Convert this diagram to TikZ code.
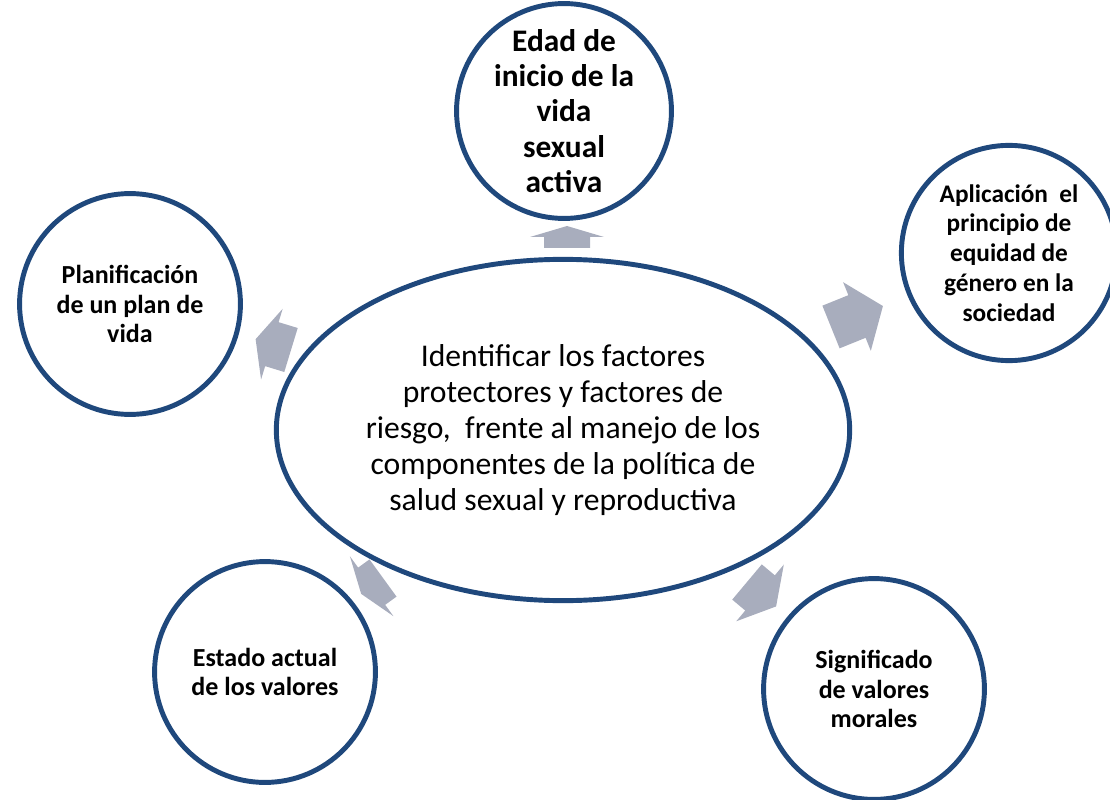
\documentclass[tikz,border=0pt]{standalone}
\usepackage{fontspec}
\setmainfont{Carlito}
\usetikzlibrary{shapes.geometric}
\definecolor{ringblue}{HTML}{1F487C}
\definecolor{arrowgray}{HTML}{A8ADBD}

\tikzset{
  hub/.style={ellipse, draw=ringblue, line width=3.5pt, fill=white, inner sep=0pt,
    minimum width=14.33cm, minimum height=8.53cm, align=center,
    font=\fontsize{22.5}{25.6}\selectfont},
  bubble/.style={circle, draw=ringblue, line width=3.5pt, fill=white, inner sep=0pt,
    minimum size=5.52cm, align=center, font=\bfseries\fontsize{18.5}{20.9}\selectfont}
}
\newcommand{\blockarrow}[4]{%
  \fill[arrowgray, shift={#1}, rotate=#2] (0,-23) -- ({#3-#4},-23) -- ({#3-#4},-37)
    -- (#3,0) -- ({#3-#4},37) -- ({#3-#4},23) -- (0,23) -- cycle;}

\begin{document}
\begin{tikzpicture}[x=0.025cm, y=0.025cm]
    \useasboundingbox (0,0) rectangle (1110,-800);
    \node[hub] (centro) at (563,-430) {Identificar los factores\\protectores y factores de\\riesgo,\ \ frente al manejo de los\\componentes de la política de\\salud sexual y reproductiva};
    \node[bubble, minimum size=5.08cm, font=\bfseries\fontsize{22.3}{25}\selectfont] (edad) at (564,-111) {Edad de\\inicio de la\\vida\\sexual\\activa};
    \node[bubble, minimum size=5.38cm, font=\bfseries\fontsize{18}{21.2}\selectfont] (equidad) at (1009,-253) {Aplicación\ \ el\\principio de\\equidad de\\género en la\\sociedad};
    \node[bubble] (plan) at (130,-304) {Planificación\\de un plan de\\vida};
    \node[bubble] (estado) at (265,-672) {Estado actual\\de los valores};
    \node[bubble] (morales) at (874,-689) {Significado\\de valores\\morales};
    \blockarrow{(567,-248)}{90}{22}{11}
    \blockarrow{(831,-327)}{22}{56}{28}
    \blockarrow{(291,-350)}{163}{37}{17}
    \blockarrow{(383,-578)}{216}{27}{13}
    \blockarrow{(747,-582)}{-40}{38}{21}
\end{tikzpicture}
\end{document}
